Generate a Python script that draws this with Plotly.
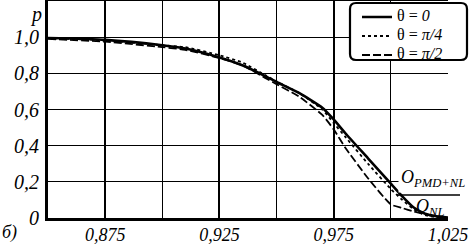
import plotly.graph_objects as go

# ---- data ----
x_vals = [0.85, 0.875, 0.9, 0.91, 0.925, 0.935, 0.945, 0.95, 0.96, 0.97, 0.975,
          0.98, 0.99, 1.0, 1.005, 1.01, 1.015, 1.02, 1.025]
p_theta0 = [0.995, 0.985, 0.955, 0.937, 0.888, 0.845, 0.785, 0.752, 0.69, 0.61, 0.545,
            0.47, 0.33, 0.19, 0.12, 0.058, 0.024, 0.01, 0.003]
p_theta_pi4 = [0.995, 0.982, 0.955, 0.945, 0.9, 0.86, 0.79, 0.755, 0.69, 0.6, 0.525,
               0.45, 0.3, 0.16, 0.1, 0.048, 0.016, 0.004, 0.0]
p_theta_pi2 = [0.99, 0.975, 0.945, 0.93, 0.885, 0.845, 0.775, 0.74, 0.67, 0.57, 0.49,
               0.39, 0.22, 0.075, 0.055, 0.036, 0.02, 0.007, 0.0]
series_names = ["θ = <i>0</i>", "θ = <i>π/4</i>", "θ = <i>π/2</i>"]
y_tickvals = [0, 0.2, 0.4, 0.6, 0.8, 1.0]
y_ticktext = ["0", "0,2", "0,4", "0,6", "0,8", "1,0"]
x_tickvals = [0.875, 0.925, 0.975, 1.025]
x_ticktext = ["0,875", "0,925", "0,975", "1,025"]

FONT = "Liberation Serif"

fig = go.Figure()
styles = [dict(dash="solid", width=2.6), dict(dash="dot", width=1.8), dict(dash="8px,3px", width=1.8)]
for ys, name, st in zip([p_theta0, p_theta_pi4, p_theta_pi2], series_names, styles):
    fig.add_trace(go.Scatter(
        x=x_vals, y=ys, mode="lines",
        name=f'<span style="font-size:16px">{name}</span>',
        line=dict(color="black", width=st["width"], dash=st["dash"], shape="spline", smoothing=0.5),
    ))

fig.update_layout(
    width=473, height=244,
    margin=dict(l=48, r=25, t=1, b=26, autoexpand=False),
    paper_bgcolor="white", plot_bgcolor="white",
    font=dict(family=FONT, color="black"),
    showlegend=True,
    legend=dict(
        x=0.7725, y=0.993, xanchor="left", yanchor="top",
        bgcolor="rgba(0,0,0,0)", borderwidth=0,
        font=dict(family=FONT, size=11, color="black"),
        itemwidth=30, tracegroupgap=0,
    ),
    xaxis=dict(
        range=[0.85, 1.025], automargin=False,
        tickmode="array", tickvals=x_tickvals, ticktext=[f"<i>{t}</i>" for t in x_ticktext],
        tickfont=dict(family=FONT, size=18),
        showgrid=True, gridcolor="black", gridwidth=2,
        minor=dict(tickmode="array", tickvals=[0.9, 0.95, 1.0], showgrid=True,
                   gridcolor="black", gridwidth=1),
        showline=True, linecolor="black", linewidth=3, mirror=True,
        ticks="", zeroline=False, ticklabelstandoff=-2,
    ),
    yaxis=dict(
        range=[0, 1.2], automargin=False,
        tickmode="array", tickvals=y_tickvals, ticktext=[f"<i>{t}</i>" for t in y_ticktext],
        tickfont=dict(family=FONT, size=20),
        showgrid=True, gridcolor="black", gridwidth=1.2,
        showline=True, linecolor="black", linewidth=3,
        ticks="", zeroline=False, ticklabelstandoff=2,
    ),
)

# rounded legend frame
x0, x1, y0, y1 = 0.755, 1.0475, 0.728, 0.9908
rx, ry = 0.015, 0.0276
path = (f"M {x0+rx},{y1} L {x1-rx},{y1} Q {x1},{y1} {x1},{y1-ry} "
        f"L {x1},{y0+ry} Q {x1},{y0} {x1-rx},{y0} L {x0+rx},{y0} "
        f"Q {x0},{y0} {x0},{y0+ry} L {x0},{y1-ry} Q {x0},{y1} {x0+rx},{y1} Z")
fig.add_shape(type="path", path=path, xref="paper", yref="paper",
              line=dict(color="black", width=2.2), fillcolor="white", layer="above")

# fraction annotation
fig.add_annotation(x=0.962, y=0.113, xref="paper", yref="paper", showarrow=False,
                   text="<i>O<sub>PMD+NL</sub></i>", font=dict(family=FONT, size=18),
                   bgcolor="white", xanchor="center", yanchor="bottom", borderpad=2)
fig.add_shape(type="line", xref="paper", yref="paper", x0=0.8725, x1=1.03, y0=0.106, y1=0.106,
              line=dict(color="black", width=1.5), layer="above")
fig.add_annotation(x=0.955, y=0.05, xref="paper", yref="paper", showarrow=False,
                   text="<i>O<sub>NL</sub></i>", font=dict(family=FONT, size=18),
                   xanchor="center", yanchor="middle", borderpad=0)

# axis label p and panel label
fig.add_annotation(x=-0.03, y=1.0, xref="paper", yref="paper", showarrow=False,
                   text="<i>p</i>", font=dict(family=FONT, size=20), xanchor="center", yanchor="top")
fig.add_annotation(x=-0.0975, y=-0.065, xref="paper", yref="paper", showarrow=False,
                   text="<i>б)</i>", font=dict(family=FONT, size=18), xanchor="center", yanchor="middle")

fig.write_html("out.html", config={"displayModeBar": False},
               post_script="document.body.style.margin='0px';document.body.style.overflow='hidden';")
